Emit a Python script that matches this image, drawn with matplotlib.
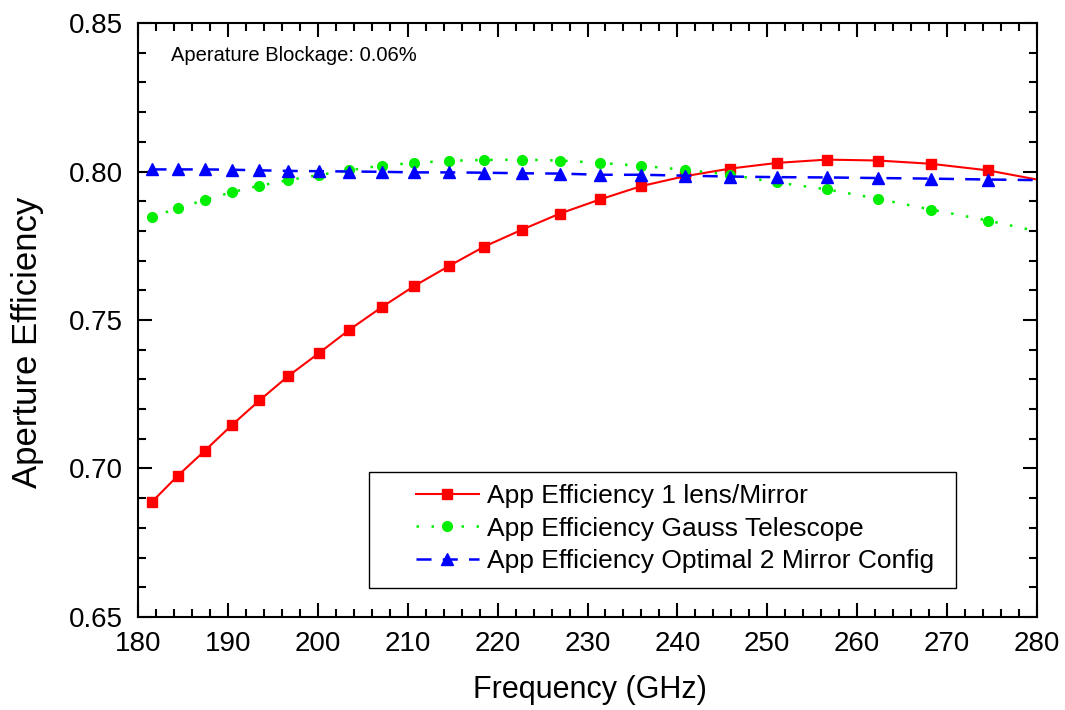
import matplotlib
matplotlib.use("Agg")
import matplotlib.pyplot as plt
from matplotlib.patches import Rectangle
from matplotlib.ticker import MultipleLocator

plt.rcParams['font.family'] = ['Liberation Sans', 'DejaVu Sans']

# Frequencies (GHz) of the sampled points; last one is the curve end at 280
freq = [181.5, 184.4, 187.4, 190.4, 193.5, 196.7, 200.1, 203.5, 207.1, 210.7,
        214.6, 218.5, 222.7, 226.9, 231.4, 236.0, 240.8, 245.9, 251.1, 256.6,
        262.3, 268.2, 274.5, 280.0]

eff_lens = [0.6886, 0.6975, 0.7059, 0.7145, 0.7229, 0.7311, 0.7388, 0.7467,
            0.7543, 0.7614, 0.7682, 0.7747, 0.7804, 0.7858, 0.7906, 0.7951,
            0.7984, 0.8010, 0.8029, 0.8040, 0.8037, 0.8026, 0.8004, 0.7973]

eff_gauss = [0.7847, 0.7876, 0.7904, 0.7930, 0.7952, 0.7971, 0.7988, 0.8004,
             0.8020, 0.8029, 0.8036, 0.8039, 0.8040, 0.8037, 0.8029, 0.8019,
             0.8006, 0.7989, 0.7963, 0.7940, 0.7908, 0.7872, 0.7835, 0.7799]

eff_2mirror = [0.8007, 0.8007, 0.8007, 0.8006, 0.8004, 0.8002, 0.8001, 0.8000,
               0.7999, 0.7997, 0.7997, 0.7996, 0.7994, 0.7993, 0.7989, 0.7989,
               0.7986, 0.7983, 0.7981, 0.7980, 0.7978, 0.7976, 0.7973, 0.7971]

labels = ["App Efficiency 1 lens/Mirror",
          "App Efficiency Gauss Telescope",
          "App Efficiency Optimal 2 Mirror Config"]

fig = plt.figure(figsize=(10.65, 7.1), dpi=100)
ax = fig.add_axes([0.1296, 0.131, 0.8441, 0.8366])

marks = list(range(len(freq) - 1))  # no marker on the end point

ax.plot(freq, eff_lens, color='#ff0000', linestyle='-', linewidth=1.5,
        marker='s', markersize=6.5, markevery=marks, label=labels[0])
ax.plot(freq, eff_gauss, color='#00ee00', linestyle=(0, (1, 5)), linewidth=1.8,
        marker='o', markersize=7, markevery=marks, label=labels[1])
ax.plot(freq, eff_2mirror, color='#0000ff', linestyle=(0, (6, 4.5)), linewidth=1.8,
        marker='^', markersize=8, markevery=marks, label=labels[2])

ax.set_xlim(180, 280)
ax.set_ylim(0.65, 0.85)
ax.xaxis.set_major_locator(MultipleLocator(10))
ax.xaxis.set_minor_locator(MultipleLocator(2))
ax.yaxis.set_major_locator(MultipleLocator(0.05))
ax.yaxis.set_minor_locator(MultipleLocator(0.01))
ax.yaxis.set_major_formatter(plt.FormatStrFormatter('%.2f'))

ax.tick_params(which='both', direction='in', top=True, right=True, width=1.5)
ax.tick_params(which='major', length=10, labelsize=20)
ax.tick_params(which='minor', length=5.5)
ax.tick_params(axis='x', which='major', pad=10)
ax.tick_params(axis='y', which='major', pad=11)
for s in ax.spines.values():
    s.set_linewidth(1.5)

# axis titles placed like the Origin export
fig.text(590 / 1065, 1 - 690 / 710, "Frequency (GHz)", fontsize=22,
         ha='center', va='center')
fig.text(28 / 1065, 1 - 342 / 710, "Aperture Efficiency", fontsize=25,
         rotation=90, ha='center', va='center')

ax.text(0.037, 0.946, "Aperature Blockage: 0.06%", transform=ax.transAxes,
        fontsize=14.5, ha='left', va='center')

# legend: Origin style box with wide left margin
ax.add_patch(Rectangle((0.257, 0.0488), 0.6529, 0.1953, transform=ax.transAxes,
                       facecolor='white', edgecolor='black', linewidth=1.0,
                       zorder=4))
leg = ax.legend(loc='upper left', bbox_to_anchor=(0.309, 0.224), fontsize=19,
                frameon=False, numpoints=1, handlelength=2.4, borderpad=0,
                borderaxespad=0, labelspacing=0.33, handletextpad=0.3)
leg.set_zorder(5)

fig.savefig("out.png", dpi=100)
